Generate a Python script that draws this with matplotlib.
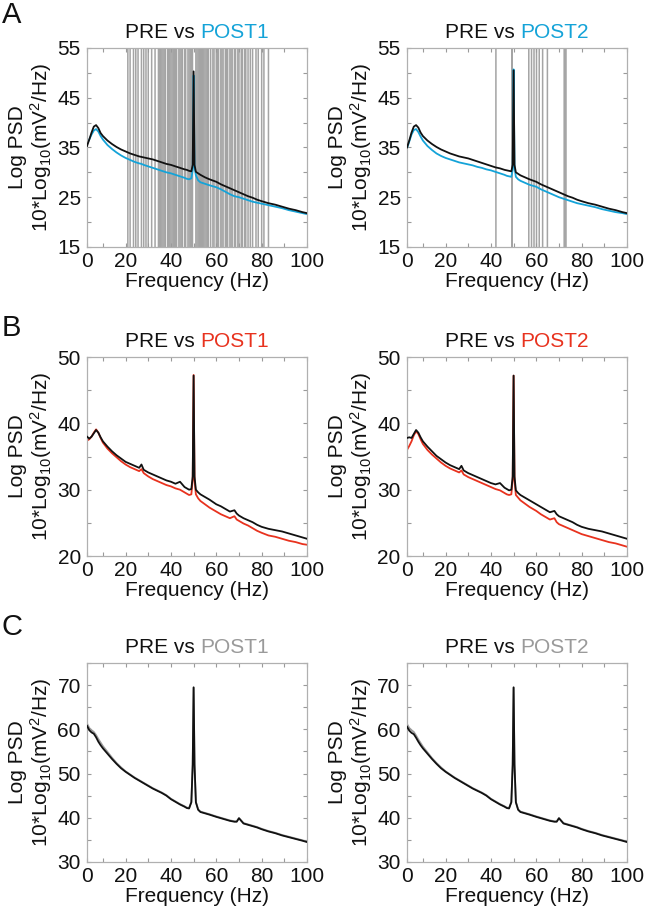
import matplotlib
matplotlib.use('Agg')
import matplotlib.pyplot as plt
from matplotlib.offsetbox import TextArea, HPacker, AnchoredOffsetbox
from matplotlib.ticker import FixedLocator

plt.rcParams['font.family'] = ['Liberation Sans', 'DejaVu Sans']
plt.rcParams['mathtext.default'] = 'regular'

# ---------------- data ----------------
freq = [3, 4, 5, 6, 7, 8, 9, 10, 12, 14, 16, 18, 20, 22, 24, 26, 27, 28, 30, 32,
        34, 36, 38, 40, 42, 44, 46, 47, 48, 49, 49.6, 50, 50.4, 51, 52, 53, 55, 57,
        60, 62, 64, 66, 68, 69, 70, 72, 74, 76, 78, 80, 83, 86, 89, 92, 95, 98, 100]

A_pre1 = [35.3, 36.6, 38.0, 39.2, 39.5, 38.9, 37.9, 37.3, 36.4, 35.7, 35.1, 34.6, 34.2, 33.8, 33.5, 33.2, 33.1, 33.0, 32.8, 32.6,
          32.3, 32.0, 31.7, 31.5, 31.2, 30.9, 30.6, 30.5, 30.3, 30.2, 31.5, 50.3, 31.5, 30.1, 29.8, 29.5, 29.0, 28.6,
          28.1, 27.6, 27.2, 26.8, 26.4, 26.2, 26.0, 25.6, 25.2, 24.9, 24.5, 24.2, 23.8, 23.5, 23.1, 22.7, 22.4, 22.0, 21.8]
A_post1 = [35.8, 36.6, 37.6, 38.4, 38.7, 38.2, 37.3, 36.6, 35.5, 34.7, 34.0, 33.4, 32.9, 32.5, 32.1, 31.8, 31.7, 31.5, 31.2, 30.9,
           30.6, 30.3, 30.0, 29.8, 29.5, 29.2, 28.9, 28.7, 28.6, 28.8, 30.5, 49.5, 31.0, 29.4, 28.4, 28.0, 27.7, 27.4,
           27.0, 26.6, 26.1, 25.6, 25.2, 25.1, 25.0, 24.7, 24.4, 24.1, 23.9, 23.7, 23.4, 23.1, 22.8, 22.4, 22.1, 21.8, 21.6]
A_pre2 = [35.0, 36.4, 38.0, 39.2, 39.5, 39.0, 38.0, 37.3, 36.4, 35.7, 35.1, 34.6, 34.2, 33.8, 33.5, 33.2, 33.1, 33.0, 32.8, 32.5,
          32.2, 31.9, 31.6, 31.3, 31.0, 30.8, 30.5, 30.4, 30.3, 30.2, 31.5, 50.5, 31.5, 30.0, 29.7, 29.4, 29.0, 28.6,
          28.1, 27.6, 27.2, 26.8, 26.4, 26.2, 26.0, 25.6, 25.2, 24.9, 24.5, 24.2, 23.8, 23.5, 23.1, 22.7, 22.4, 22.0, 21.8]
A_post2 = [34.8, 36.2, 37.6, 38.5, 38.7, 38.1, 37.2, 36.4, 35.3, 34.5, 33.8, 33.3, 32.9, 32.6, 32.3, 32.0, 31.9, 31.8, 31.6, 31.4,
           31.1, 30.9, 30.6, 30.4, 30.1, 29.8, 29.5, 29.3, 29.2, 29.1, 30.5, 50.7, 31.0, 29.1, 28.6, 28.3, 27.9, 27.5,
           27.1, 26.6, 26.2, 25.8, 25.4, 25.2, 25.0, 24.7, 24.4, 24.1, 23.8, 23.6, 23.3, 23.0, 22.6, 22.3, 22.0, 21.8, 21.6]

B_pre1 = [38.0, 37.7, 38.0, 38.5, 39.0, 38.6, 37.9, 37.3, 36.5, 35.8, 35.2, 34.7, 34.2, 33.9, 33.6, 33.3, 33.8, 33.0, 32.6, 32.3,
          32.0, 31.7, 31.4, 31.2, 30.9, 31.2, 30.4, 30.2, 30.0, 30.1, 32.0, 47.2, 32.0, 30.0, 29.6, 29.3, 28.9, 28.5,
          27.8, 27.5, 27.1, 26.7, 26.9, 26.4, 26.1, 25.7, 25.4, 25.1, 24.7, 24.4, 24.1, 23.9, 23.7, 23.4, 23.1, 22.8, 22.6]
B_post1 = [37.4, 37.6, 38.0, 38.6, 39.1, 38.6, 37.8, 37.1, 36.2, 35.5, 34.9, 34.3, 33.8, 33.4, 33.1, 32.8, 33.1, 32.5, 32.0, 31.6,
           31.3, 31.0, 30.7, 30.5, 30.2, 30.0, 29.6, 29.4, 29.2, 29.3, 31.5, 47.3, 31.5, 29.3, 28.7, 28.3, 27.8, 27.3,
           26.7, 26.3, 26.0, 25.7, 26.0, 25.5, 25.3, 24.9, 24.6, 24.2, 23.8, 23.5, 23.1, 22.9, 22.6, 22.3, 22.1, 21.8, 21.7]
B_pre2 = [37.8, 37.9, 37.8, 38.4, 39.0, 38.6, 37.9, 37.3, 36.5, 35.8, 35.1, 34.6, 34.1, 33.7, 33.4, 33.1, 33.6, 32.9, 32.5, 32.2,
          31.9, 31.6, 31.3, 31.0, 30.8, 31.0, 30.3, 30.1, 29.9, 30.0, 32.0, 47.2, 32.0, 29.9, 29.5, 29.2, 28.8, 28.4,
          27.8, 27.4, 27.0, 26.6, 26.8, 26.3, 26.0, 25.7, 25.4, 25.1, 24.7, 24.4, 24.1, 23.9, 23.7, 23.4, 23.1, 22.8, 22.6]
B_post2 = [36.0, 36.6, 37.3, 38.2, 38.8, 38.4, 37.6, 36.9, 36.0, 35.3, 34.7, 34.1, 33.6, 33.2, 32.9, 32.6, 32.9, 32.3, 31.9, 31.6,
           31.3, 31.0, 30.7, 30.4, 30.1, 29.9, 29.5, 29.3, 29.2, 29.3, 31.5, 47.2, 31.5, 29.2, 28.8, 28.4, 27.9, 27.4,
           26.8, 26.3, 25.9, 25.5, 25.7, 25.1, 24.8, 24.5, 24.2, 23.9, 23.6, 23.3, 23.0, 22.7, 22.4, 22.1, 21.9, 21.6, 21.4]

C_pre1 = [60.8, 59.8, 59.3, 59.0, 58.2, 57.2, 56.4, 55.7, 54.5, 53.3, 52.2, 51.2, 50.4, 49.7, 49.0, 48.4, 48.1, 47.8, 47.2, 46.6,
          46.1, 45.6, 45.0, 44.2, 43.6, 43.0, 42.5, 42.2, 42.1, 43.5, 52.0, 69.5, 52.0, 43.5, 41.8, 41.3, 41.0, 40.7,
          40.2, 39.9, 39.6, 39.3, 39.1, 39.1, 39.9, 38.7, 38.4, 38.1, 37.8, 37.4, 36.9, 36.5, 36.0, 35.6, 35.2, 34.8, 34.5]
C_post1 = [61.3, 60.3, 59.8, 59.4, 58.7, 57.8, 57.0, 56.2, 54.9, 53.6, 52.4, 51.4, 50.5, 49.8, 49.1, 48.5, 48.2, 47.9, 47.3, 46.7,
           46.2, 45.7, 45.1, 44.3, 43.7, 43.1, 42.6, 42.3, 42.2, 43.6, 52.0, 69.4, 52.0, 43.6, 41.9, 41.4, 41.1, 40.8,
           40.3, 40.0, 39.7, 39.4, 39.2, 39.2, 39.9, 38.8, 38.5, 38.2, 37.9, 37.5, 37.0, 36.6, 36.1, 35.7, 35.3, 34.9, 34.6]
C_pre2 = [60.6, 59.7, 59.2, 58.9, 58.1, 57.2, 56.4, 55.7, 54.5, 53.3, 52.2, 51.2, 50.4, 49.7, 49.0, 48.4, 48.1, 47.8, 47.2, 46.6,
          46.1, 45.6, 45.0, 44.2, 43.6, 43.0, 42.5, 42.2, 42.1, 43.5, 52.0, 69.5, 52.0, 43.5, 41.8, 41.3, 41.0, 40.7,
          40.2, 39.9, 39.6, 39.3, 39.1, 39.1, 39.9, 38.7, 38.4, 38.1, 37.8, 37.4, 36.9, 36.5, 36.0, 35.6, 35.2, 34.8, 34.5]
C_post2 = [61.2, 60.3, 59.8, 59.4, 58.6, 57.7, 56.9, 56.1, 54.8, 53.5, 52.4, 51.4, 50.5, 49.8, 49.1, 48.5, 48.2, 47.9, 47.3, 46.7,
           46.2, 45.7, 45.1, 44.3, 43.7, 43.1, 42.6, 42.3, 42.2, 43.6, 52.0, 69.4, 52.0, 43.6, 41.9, 41.4, 41.1, 40.8,
           40.3, 40.0, 39.7, 39.4, 39.2, 39.2, 39.9, 38.8, 38.5, 38.2, 37.9, 37.5, 37.0, 36.6, 36.1, 35.7, 35.3, 34.9, 34.6]

# frequencies with significant differences (grey vertical lines)
A_sig1 = [21.0, 22.0, 23.5, 24.5, 25.5, 27.0, 28.0, 29.0, 30.0, 31.5, 33.0,
          34.5, 35, 35.5, 36, 36.5, 37, 37.5, 38.5, 39, 39.5, 40, 40.5, 41, 41.5, 42, 42.5,
          43.5, 44, 44.5, 45, 46, 46.5, 47.5, 48, 48.5, 49, 49.5,
          51, 51.5, 52, 52.5, 53, 53.5, 54, 54.5, 55, 55.5, 56, 56.5,
          57.5, 58.5, 59, 60, 60.5, 61, 62, 62.5, 63, 64, 64.5, 65, 66, 66.5, 67, 68, 68.5,
          69.5, 70, 71, 71.5, 72.5, 73, 74,
          75, 76, 77.5, 78.5, 80, 81, 83]
A_sig2 = [42.2, 49.2, 49.4, 56.7, 57.9, 59.0, 60.1, 61.3, 62.8, 64.9, 72.3, 72.7, 73.1]

xtick_pos = [3, 20, 40, 60, 80, 100]
xtick_labels = ['0', '20', '40', '60', '80', '100']
xminor = [10, 30, 50, 70, 90]

CYAN = '#14a3d8'
RED = '#e8321e'
GREY = '#9a9a9a'
BLACK = '#111111'

# ---------------- figure ----------------
fig = plt.figure(figsize=(6.45, 9.16), dpi=100)

lefts = [0.1349, 0.631]
rows = [
    dict(bottom=0.7304, ylim=(15, 55), major=[15, 25, 35, 45, 55], minor=[20, 30, 40, 50],
         pre=[A_pre1, A_pre2], post=[A_post1, A_post2], color=CYAN, sig=[A_sig1, A_sig2]),
    dict(bottom=0.3930, ylim=(20, 50), major=[20, 30, 40, 50], minor=[25, 35, 45],
         pre=[B_pre1, B_pre2], post=[B_post1, B_post2], color=RED, sig=[None, None]),
    dict(bottom=0.0590, ylim=(30, 75), major=[30, 40, 50, 60, 70], minor=[35, 45, 55, 65, 75],
         pre=[C_pre1, C_pre2], post=[C_post1, C_post2], color=GREY, sig=[None, None]),
]
names = ['POST1', 'POST2']
FS = 15

for r in rows:
    for j in range(2):
        ax = fig.add_axes([lefts[j], r['bottom'], 0.3411, 0.2172])
        if r['sig'][j] is not None:
            for f in r['sig'][j]:
                ax.axvline(f, color='#a4a4a4', lw=1.1, zorder=1, snap=False)
        ax.plot(freq, r['post'][j], color=r['color'], lw=1.3, zorder=2)
        ax.plot(freq, r['pre'][j], color=BLACK, lw=1.3, zorder=3)
        ax.set_xlim(3, 100)
        ax.set_ylim(*r['ylim'])
        ax.xaxis.set_major_locator(FixedLocator(xtick_pos))
        ax.set_xticklabels(xtick_labels)
        ax.xaxis.set_minor_locator(FixedLocator(xminor))
        ax.yaxis.set_major_locator(FixedLocator(r['major']))
        ax.yaxis.set_minor_locator(FixedLocator(r['minor']))
        ax.tick_params(which='both', direction='in', top=True, right=True,
                       length=3, width=0.8, color='#9a9a9a', labelsize=FS, labelcolor='#111111')
        ax.tick_params(axis='x', pad=3.5)
        ax.tick_params(axis='y', pad=4.5)
        for s in ax.spines.values():
            s.set_color('#b0b0b0')
            s.set_linewidth(0.9)
        ax.set_xlabel('Frequency (Hz)', fontsize=FS, color='#111111')
        ax.xaxis.set_label_coords(0.5, -0.125)
        ax.set_ylabel('Log PSD\n10*Log$_{10}$(mV$^2$/Hz)', fontsize=FS, color='#111111', linespacing=1.05)
        ax.yaxis.set_label_coords(-0.15, 0.5)
        t1 = TextArea('PRE vs', textprops=dict(color='#111111', size=FS))
        t2 = TextArea(names[j], textprops=dict(color=r['color'], size=FS))
        box = HPacker(children=[t1, t2], align='baseline', pad=0, sep=4)
        ab = AnchoredOffsetbox(loc='lower center', child=box, pad=0, borderpad=0, frameon=False,
                               bbox_to_anchor=(0.5, 1.03), bbox_transform=ax.transAxes)
        ax.add_artist(ab)

for letter, y in [('A', 0.9749), ('B', 0.6332), ('C', 0.3068)]:
    fig.text(0.003, y, letter, fontsize=21, va='baseline', ha='left', color='#111111')

fig.savefig('out.png', dpi=100)
